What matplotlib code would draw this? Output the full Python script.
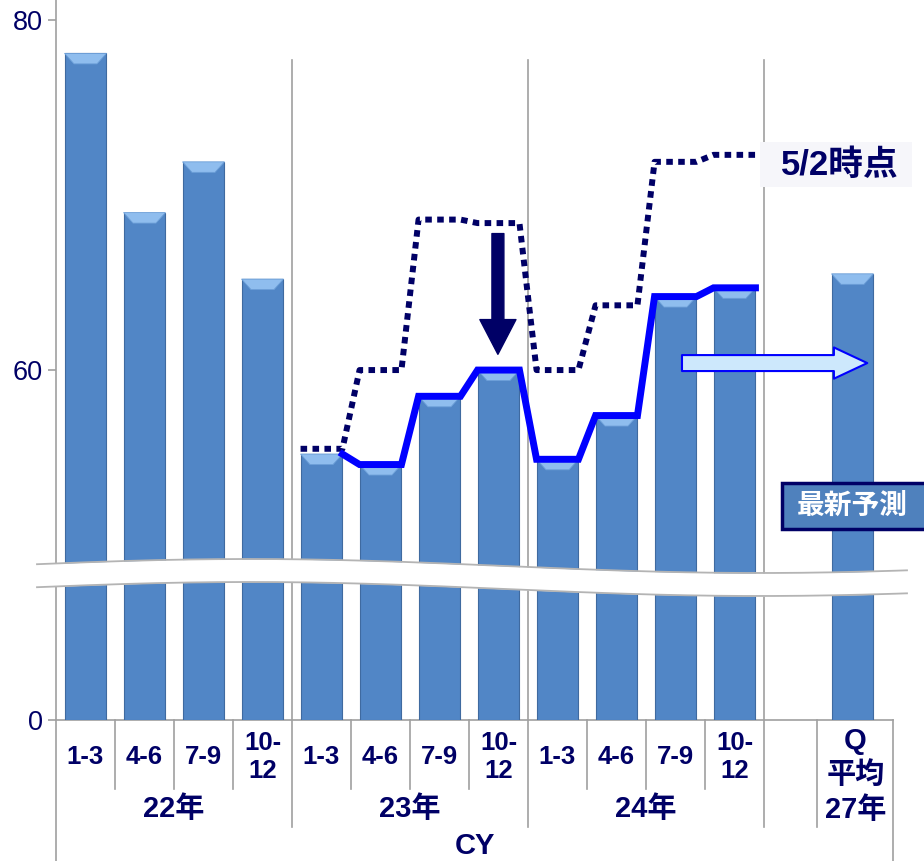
import numpy as np
import matplotlib.pyplot as plt
from matplotlib.patches import FancyArrowPatch, Rectangle, Polygon

plt.rcParams['font.family'] = ['Liberation Sans', 'Noto Sans CJK JP']

# quarterly values 22年 1-3 .. 24年 10-12 (latest forecast), plus 27年 quarterly average
quarters = ['1-3', '4-6', '7-9', '10-\n12'] * 3
years = ['22年', '23年', '24年']
bar_values = [78.1, 69.0, 71.9, 65.2, 55.2, 54.6, 58.5, 60.0, 54.9, 57.4, 64.2, 64.7]
avg_label = ['Q', '平均', '27年']
avg_value = 65.5
# forecast as of 5/2, 23年 1-3 .. 24年 10-12
forecast_0502 = [55.5, 60.0, 68.6, 68.4, 60.0, 63.7, 71.9, 72.3]

NAVY = '#000066'
GRID = '#a0a0a0'
BAR = '#5186c6'

# broken value axis: below 48 the scale is squeezed so 0 sits where 40 would be
BREAK = 48.0


def fwd(v):
    v = np.asarray(v, dtype=float)
    return np.where(v >= BREAK, v, 40 + v * (BREAK - 40) / BREAK)


def inv(y):
    y = np.asarray(y, dtype=float)
    return np.where(y >= BREAK, y, (y - 40) * BREAK / (BREAK - 40))


W, H = 924, 861
fig = plt.figure(figsize=(W / 100, H / 100), dpi=100)
ax = fig.add_axes([56 / W, 1 - 720 / H, 826 / W, 720 / H])
ax.set_yscale('function', functions=(fwd, inv))
ax.set_xlim(-0.5, 13.5)
ax.set_ylim(0, 81.15)

xpos = np.arange(len(bar_values))
hw = 0.355
allx = list(xpos) + [13]
allv = bar_values + [avg_value]
ax.bar(allx, allv, width=2 * hw, color=BAR, edgecolor='#3f6aa0', linewidth=0.8, zorder=2)
# bevelled tops
for c, v in zip(allx, allv):
    ax.add_patch(Polygon([(c - hw, v), (c + hw, v), (c + hw - 0.16, v - 0.6), (c - hw + 0.16, v - 0.6)],
                         closed=True, facecolor='#8fbdee', edgecolor='#6c9fd8', linewidth=0.6, zorder=3))

# latest forecast, flat across each bar top
xs_sol, ys_sol = [], []
for k, v in enumerate(bar_values[4:]):
    c = 4 + k
    if k > 0:
        xs_sol.append(c - hw)
        ys_sol.append(v)
    xs_sol.append(c + hw)
    ys_sol.append(v)

xs_dot, ys_dot = [], []
for k, v in enumerate(forecast_0502):
    c = 4 + k
    xs_dot += [c - hw, c + hw]
    ys_dot += [v, v]

ax.plot(xs_dot, ys_dot, color=NAVY, lw=4.3, linestyle=(0, (1.1, 0.9)), dash_capstyle='butt', zorder=4)
ax.plot(xs_sol, ys_sol, color='#0000ff', lw=5, solid_joinstyle='miter', zorder=5)

# arrows
ax.add_patch(FancyArrowPatch((6.99, 67.8), (6.99, 60.9),
                             arrowstyle='simple,head_length=2.5,head_width=2.6,tail_width=0.86',
                             mutation_scale=10, color=NAVY, shrinkA=0, shrinkB=0, zorder=6))
ax.add_patch(FancyArrowPatch((10.11, 60.4), (13.25, 60.4),
                             arrowstyle='simple,head_length=2.4,head_width=2.25,tail_width=1.15',
                             mutation_scale=10, facecolor='#cde8fc', edgecolor='#0000ff', lw=1.5,
                             shrinkA=0, shrinkB=0, zorder=6))

# axes styling
for s in ax.spines.values():
    s.set_visible(False)
ax.set_xticks([])
ax.set_yticks([0, 60, 80])
ax.set_yticklabels(['0', '60', '80'])
ax.tick_params(axis='y', length=6, width=1.2, color=GRID, pad=3.5, labelsize=19.5, labelcolor=NAVY)

tr = ax.get_xaxis_transform()


def yax(py):
    return (720 - py) / 720


def vline(x, top, bottom):
    ax.plot([x, x], [yax(top), yax(bottom)], color=GRID, lw=1.2, transform=tr, clip_on=False, zorder=1)


vline(-0.5, 0, 861)
vline(13.69, 720, 861)
vline(12.40, 720, 827)
for b in (3.5, 7.5, 11.5):
    vline(b, 60, 827)
for b in (0.5, 1.5, 2.5, 4.5, 5.5, 6.5, 8.5, 9.5, 10.5):
    vline(b, 720, 789)
ax.plot([-0.5, 13.69], [0, 0], color=GRID, lw=1.2, transform=tr, clip_on=False, zorder=1)

# category table below the axis
for i, q in enumerate(quarters):
    ax.text(i, yax(757), q, transform=tr, ha='center', va='center', fontsize=18.5,
            fontweight='bold', color=NAVY, linespacing=1.2)
for j, y in enumerate(years):
    ax.text(4 * j + 1.5, yax(809), y, transform=tr, ha='center', va='center', fontsize=21,
            fontweight='bold', color=NAVY)
for txt, py in zip(avg_label, (741, 775, 810)):
    ax.text(13.05, yax(py), txt, transform=tr, ha='center', va='center', fontsize=21,
            fontweight='bold', color=NAVY)
ax.text(0.5 * (-0.5 + 13.69), yax(846), 'CY', transform=tr, ha='center', va='center',
        fontsize=21, fontweight='bold', color=NAVY)

# overlay in pixel units for the axis break and callouts
ov = fig.add_axes([0, 0, 1, 1])
ov.set_xlim(0, W)
ov.set_ylim(H, 0)
ov.axis('off')
ov.patch.set_visible(False)

bx = np.linspace(37, 907, 300)
btop = 566 + 7 * np.sin(2 * np.pi * (bx - 505) / 1020)
bbot = btop + 23
ov.fill_between(bx, btop, bbot, color='white', lw=0, zorder=1)
ov.plot(bx, btop, color='#b4b4b4', lw=1.3, zorder=2)
ov.plot(bx, bbot, color='#b4b4b4', lw=1.3, zorder=2)

ov.add_patch(Rectangle((760, 142), 152, 45, facecolor='#f6f6fa', edgecolor='none', zorder=3))
ov.text(840, 165, '5/2時点', ha='center', va='center', fontsize=25, fontweight='bold',
        color=NAVY, zorder=4)

ov.add_patch(Rectangle((782, 483), 160, 46, facecolor='#4f81bd', edgecolor=NAVY, lw=2.5, zorder=3))
ov.text(852, 507, '最新予測', ha='center', va='center', fontsize=20, fontweight='bold',
        color='white', zorder=4)

fig.savefig('out.png', dpi=100)
